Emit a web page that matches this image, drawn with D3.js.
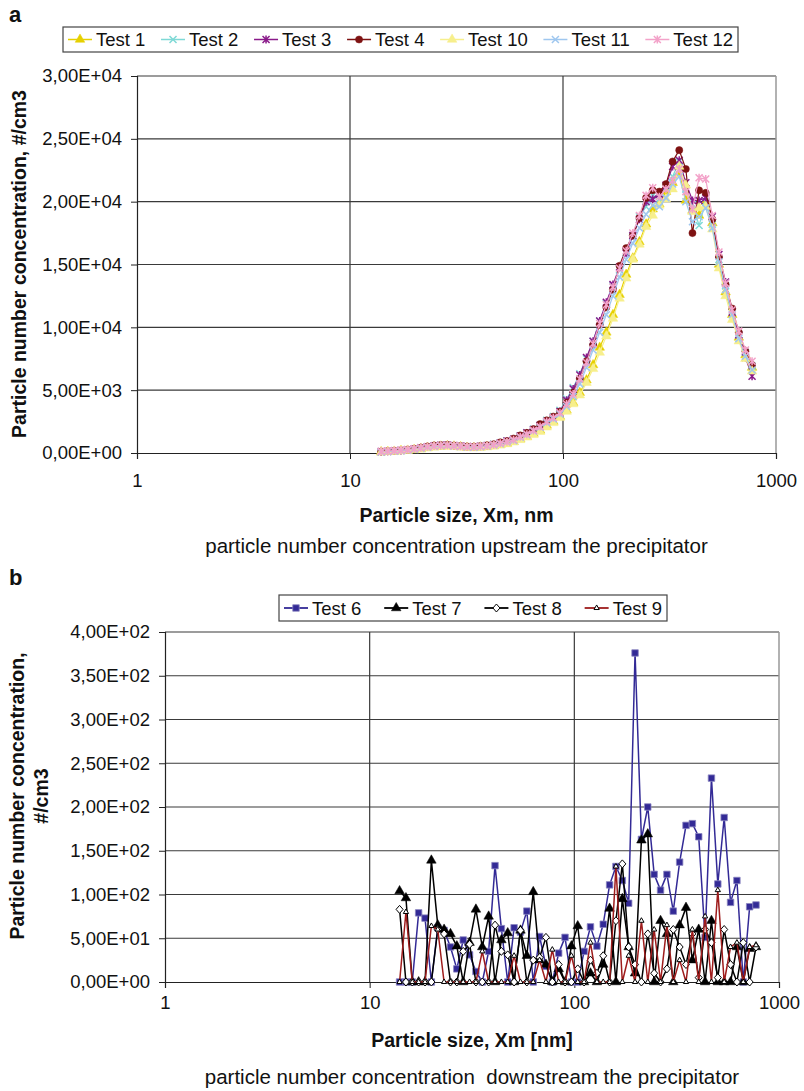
<!DOCTYPE html>
<html><head><meta charset="utf-8">
<script src="https://cdn.jsdelivr.net/npm/d3@7"></script>
<style>body{margin:0;background:#fff} svg text{font-family:"Liberation Sans",Arial,Helvetica,sans-serif}</style>
</head><body><svg id="c" width="804" height="1091"></svg>
<script>
// ---------- DATA ----------
const sizeNm = [14.00,15.04,16.15,17.35,18.64,20.02,21.51,23.10,24.82,26.66,28.64,30.77,33.05,35.50,38.14,40.97,44.01,47.27,50.78,54.55,58.60,62.98,67.65,72.67,78.06,83.85,90.07,96.75,103.9,111.6,119.9,128.9,138.4,148.7,159.7,171.6,184.3,198.0,212.7,228.5,245.5,263.8,283.4,304.4,327.0,351.3,377.3,405.3,435.4,467.7,502.4,539.7,579.8,622.8,669.0,718.7,772.0];

const test1  = [80,100,120,180,200,260,330,420,480,520,560,530,480,430,420,450,500,560,650,760,900,1100,1300,1550,1800,2200,2500,2900,3400,4000,4800,5800,7000,8400,9600,11000,12600,14200,15500,16800,18200,19400,19800,20800,21500,22300,20100,19300,18900,20000,18300,15000,12800,11000,9200,7800,6800];
const test2  = [100,140,170,210,250,320,400,500,560,600,620,580,540,500,480,540,600,700,820,950,1100,1350,1600,1900,2200,2600,2900,3400,4300,5200,6300,7500,8900,10500,11900,13300,14600,16000,17200,18800,19600,20500,20200,21200,22000,23200,21000,19800,18100,20000,18200,15400,13300,11300,9400,8000,6900];
const test3  = [110,130,160,200,250,320,420,500,580,620,640,600,560,520,500,540,600,680,800,950,1100,1350,1600,1850,2200,2500,2800,3300,4200,5100,6200,7600,8900,10500,12000,13400,14800,15900,17300,18600,20000,20200,20600,21300,22800,23300,21500,20100,20100,20300,18800,15800,13600,11200,9400,7600,6100];
const test4  = [120,150,180,220,260,330,420,520,600,640,650,600,560,520,500,560,620,700,850,950,1150,1400,1600,1900,2300,2600,2900,3300,4000,4800,5900,7300,8600,10200,11600,13000,14900,16300,17300,18700,20300,20900,20800,21400,23200,24100,22600,17500,20900,20700,18600,15600,13400,11500,9600,8100,7000];
const test10 = [60,90,110,150,190,240,300,380,460,500,520,510,460,420,400,430,470,540,620,720,860,1050,1250,1450,1700,2050,2400,2800,3300,3900,4600,5600,6700,8000,9300,10700,12300,13900,15400,16600,18000,18900,19700,20200,21000,22800,21300,19200,19500,19600,17800,14700,12500,10600,8900,7500,6500];
const test11 = [90,120,150,190,230,300,380,460,530,570,590,560,510,470,460,500,550,630,740,870,1000,1250,1450,1750,2050,2400,2700,3100,3700,4500,5500,6800,8200,9600,11000,12500,14000,15400,16700,17900,19000,19700,19600,20300,21400,22000,20000,18400,18800,19500,17900,15200,13000,11000,9100,7700,6600];
const test12 = [130,160,190,230,270,340,420,500,560,600,610,570,530,500,490,530,580,660,780,900,1050,1300,1500,1800,2100,2500,2800,3200,3900,4700,5900,7200,8700,10300,11800,13200,14700,16100,17500,18900,20500,21100,20400,21000,21700,22600,20800,19400,21900,21800,18900,16000,13500,11400,9700,8200,7300];

const test6 = [0,0,0,79,73,0,62,59,40,15,48,31,12,0,35,133,61,0,62,57,81,0,52,18,0,33,51,0,0,35,63,41,66,111,132,116,90,376,163,200,123,105,123,81,137,179,181,166,51,233,112,188,91,116,0,86,88];
const test7 = [104,96,0,0,0,139,65,60,55,41,0,45,83,40,75,0,48,56,0,59,30,103,25,20,0,15,0,41,64,0,10,0,20,84,0,95,40,10,162,169,0,70,55,0,65,85,25,60,0,70,0,0,0,40,0,38,40];
const test8 = [83,0,0,0,0,0,60,55,0,0,35,43,0,0,0,65,35,31,0,59,0,25,28,51,0,20,0,0,15,0,25,10,30,0,70,135,40,20,0,55,10,0,15,60,40,20,55,5,60,45,5,60,20,0,45,0,40];
const test9 = [0,80,0,0,0,64,60,0,0,0,0,0,0,35,0,0,0,0,30,0,0,0,25,0,37,0,0,30,0,0,45,0,0,0,132,0,30,0,70,0,60,0,65,0,25,0,60,0,75,0,105,0,40,45,0,40,42];

const xTickValues = [1,10,100,1000];
const xTickLabels = ["1","10","100","1000"];
const yTicksA = [0,5000,10000,15000,20000,25000,30000];
const yLabelsA = ["0,00E+00","5,00E+03","1,00E+04","1,50E+04","2,00E+04","2,50E+04","3,00E+04"];
const yTicksB = [0,50,100,150,200,250,300,350,400];
const yLabelsB = ["0,00E+00","5,00E+01","1,00E+02","1,50E+02","2,00E+02","2,50E+02","3,00E+02","3,50E+02","4,00E+02"];

const seriesA = [
  {name:"Test 1", values:test1, color:"#E6D000", marker:"tri"},
  {name:"Test 2", values:test2, color:"#7FD9D6", marker:"x"},
  {name:"Test 3", values:test3, color:"#8A1A8A", marker:"ast"},
  {name:"Test 4", values:test4, color:"#7E1212", marker:"circle"},
  {name:"Test 10", values:test10, color:"#F7EF8C", marker:"tri"},
  {name:"Test 11", values:test11, color:"#9FC7EF", marker:"x"},
  {name:"Test 12", values:test12, color:"#F3A2C9", marker:"ast"}
];
const seriesB = [
  {name:"Test 6", values:test6, color:"#332A96", marker:"square"},
  {name:"Test 7", values:test7, color:"#000000", marker:"btri"},
  {name:"Test 8", values:test8, color:"#000000", marker:"diamond"},
  {name:"Test 9", values:test9, color:"#9E1C1C", marker:"smalltri"}
];

// ---------- DRAWING ----------
const svg = d3.select("#c");
const FONT = '"Liberation Sans",Arial,Helvetica,sans-serif';

function markerPath(type){
  switch(type){
    case "tri": return d3.symbol().type(d3.symbolTriangle).size(40)();
    case "btri": return d3.symbol().type(d3.symbolTriangle).size(40)();
    case "smalltri": return d3.symbol().type(d3.symbolTriangle).size(12)();
    case "circle": return d3.symbol().type(d3.symbolCircle).size(40)();
    case "square": return d3.symbol().type(d3.symbolSquare).size(42)();
    case "diamond": return "M0,-4L3.5,0L0,4L-3.5,0Z";
    case "x": return "M-3.5,-3.5L3.5,3.5M-3.5,3.5L3.5,-3.5";
    case "ast": return "M-3.5,-3.5L3.5,3.5M-3.5,3.5L3.5,-3.5M0,-4L0,4";
  }
}
function markerStyle(sel, s){
  const t = s.marker;
  if (t==="x"||t==="ast") sel.attr("fill","none").attr("stroke",s.color).attr("stroke-width",1.5);
  else if (t==="diamond"||t==="smalltri") sel.attr("fill","#fff").attr("stroke","#000").attr("stroke-width",1);
  else if (t==="square") sel.attr("fill",s.color).attr("stroke","#8a85c0").attr("stroke-width",0.8);
  else sel.attr("fill",s.color).attr("stroke",s.color).attr("stroke-width",0.5);
}

function drawPanel(o){
  const g = svg.append("g");
  const x = d3.scaleLog().domain([1,1000]).range([o.left,o.right]);
  const y = d3.scaleLinear().domain([0,o.ymax]).range([o.bottom,o.top]);

  g.selectAll(".hg").data(o.yTicks.slice(1)).join("line")
    .attr("x1",o.left).attr("x2",o.right)
    .attr("y1",d=>y(d)).attr("y2",d=>y(d))
    .attr("stroke","#3a3a3a").attr("stroke-width",1.2);
  g.selectAll(".vg").data([10,100]).join("line")
    .attr("x1",d=>x(d)).attr("x2",d=>x(d))
    .attr("y1",o.top).attr("y2",o.bottom)
    .attr("stroke","#3a3a3a").attr("stroke-width",1.2);
  g.append("line").attr("x1",o.right).attr("x2",o.right).attr("y1",o.top).attr("y2",o.bottom)
    .attr("stroke","#999").attr("stroke-width",1.5);

  const ya = d3.axisLeft(y).tickValues(o.yTicks).tickFormat((d,i)=>o.yLabels[i]).tickSize(6).tickPadding(9);
  const yg = g.append("g").attr("transform",`translate(${o.left},0)`).call(ya);
  yg.select(".domain").attr("stroke","#222").attr("stroke-width",1.2);
  yg.selectAll(".tick line").attr("stroke","#222");
  yg.selectAll("text").attr("font-size",18.5).attr("font-family",FONT).attr("fill","#111");

  const xa = d3.axisBottom(x).tickValues(xTickValues).tickFormat((d,i)=>xTickLabels[i]).tickSize(6).tickPadding(o.xPad);
  const xg = g.append("g").attr("transform",`translate(0,${o.bottom})`).call(xa);
  xg.select(".domain").attr("stroke","#222").attr("stroke-width",1.2);
  xg.selectAll(".tick line").attr("stroke","#222");
  xg.selectAll("text").attr("font-size",18.5).attr("font-family",FONT).attr("fill","#111");

  const line = d3.line().x((d,i)=>x(sizeNm[i])).y(d=>y(d));
  o.series.forEach(s=>{
    const sg = g.append("g");
    sg.append("path").datum(s.values).attr("d",line).attr("fill","none")
      .attr("stroke",s.color).attr("stroke-width",o.lw).attr("stroke-linejoin","round");
    const mp = markerPath(s.marker);
    const m = sg.selectAll("path.m").data(s.values).join("path").attr("class","m")
      .attr("d",mp).attr("transform",(d,i)=>`translate(${x(sizeNm[i])},${y(d)})`);
    markerStyle(m,s);
  });

  g.append("text").attr("x",(o.left+o.right)/2).attr("y",o.xTitleY).attr("text-anchor","middle")
    .attr("font-size",19.5).attr("font-weight","bold").attr("fill","#111").text(o.xTitle);
  g.append("text").attr("x",(o.left+o.right)/2).attr("y",o.subY).attr("text-anchor","middle")
    .attr("font-size",20.5).attr("fill","#111").style("white-space","pre").text(o.sub);
  o.yTitle.forEach((t,i)=>{
    g.append("text").attr("transform",`translate(${o.yTitleX[i]},${o.yTitleCY}) rotate(-90)`)
      .attr("text-anchor","middle").attr("font-size",19.5).attr("font-weight","bold").attr("fill","#111").text(t);
  });

  g.append("text").attr("x",o.letterX).attr("y",o.letterY).attr("font-size",22).attr("font-weight","bold").attr("fill","#111").text(o.letter);

  const lg = g.append("g");
  lg.append("rect").attr("x",o.legX).attr("y",o.legY).attr("width",o.legW).attr("height",o.legH)
    .attr("fill","#fff").attr("stroke","#444").attr("stroke-width",1.2);
  const items = o.series.map(s=>{
    const t = lg.append("text").attr("font-size",18.5).attr("fill","#111").text(s.name);
    return {s,t,w:t.node().getComputedTextLength()};
  });
  const pad=5, lineLen=24, gapText=4;
  const used = items.reduce((a,it)=>a+lineLen+gapText+it.w,0);
  const gap = (o.legW-2*pad-used)/(items.length-1);
  let cx = o.legX+pad;
  const cy = o.legY+o.legH/2;
  items.forEach(it=>{
    lg.append("line").attr("x1",cx).attr("x2",cx+lineLen).attr("y1",cy).attr("y2",cy)
      .attr("stroke",it.s.color).attr("stroke-width",o.lw+0.3);
    const m = lg.append("path").attr("d",markerPath(it.s.marker)).attr("transform",`translate(${cx+lineLen/2},${cy})`);
    markerStyle(m,it.s);
    it.t.attr("x",cx+lineLen+gapText).attr("y",cy+6.5);
    cx += lineLen+gapText+it.w+gap;
  });
}

drawPanel({
  left:137,right:776,top:76,bottom:453,ymax:30000,yTicks:yTicksA,yLabels:yLabelsA,xPad:15,
  series:seriesA,lw:1.2,
  xTitle:"Particle size, Xm, nm",xTitleY:522,sub:"particle number concentration upstream the precipitator",subY:553,
  yTitle:["Particle number concentration, #/cm3"],yTitleX:[26],yTitleCY:264,
  letter:"a",letterX:9,letterY:22,
  legX:63,legY:27,legW:675,legH:25
});
drawPanel({
  left:165,right:779,top:632,bottom:982,ymax:400,yTicks:yTicksB,yLabels:yLabelsB,xPad:8,
  series:seriesB,lw:1.5,
  xTitle:"Particle size, Xm [nm]",xTitleY:1047,sub:"particle number concentration  downstream the precipitator",subY:1084,
  yTitle:["Particle number concentration,","#/cm3"],yTitleX:[24,48],yTitleCY:796,
  letter:"b",letterX:9,letterY:585,
  legX:279,legY:595,legW:388,legH:26
});
</script></body></html>
